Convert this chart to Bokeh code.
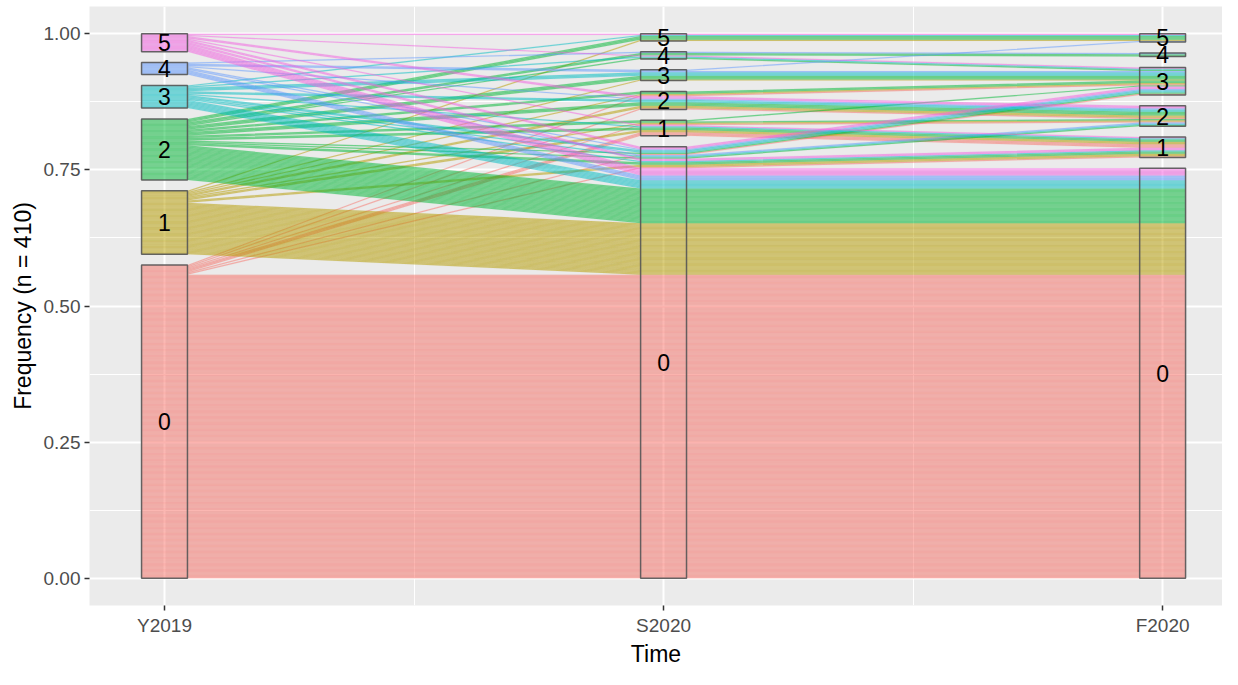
from bokeh.plotting import figure
from bokeh.models import Range1d, FixedTicker, ColumnDataSource, NumeralTickFormatter
from bokeh.core.properties import value
from bokeh.embed import file_html
from bokeh.resources import INLINE

# ---------------- data ----------------
times = ["Y2019", "S2020", "F2020"]
stages = [0, 1, 2, 3, 4, 5]
stage_labels = ["0", "1", "2", "3", "4", "5"]
stage_colors = ["#F8766D", "#B79F00", "#00BA38", "#00BFC4", "#619CFF", "#F564E3"]

# each path = (stage in Y2019, stage in S2020, stage in F2020) with number of people
path_y2019 = [0, 0, 0, 0, 0, 0, 0,
              1, 1, 1, 1, 1, 1, 1, 1,
              2, 2, 2, 2, 2, 2, 2, 2, 2, 2, 2, 2, 2,
              3, 3, 3, 3, 3, 3, 3, 3, 3,
              4, 4, 4, 4, 4, 4, 4,
              5, 5, 5, 5, 5, 5, 5]
path_s2020 = [0, 0, 0, 1, 1, 2, 2,
              0, 0, 1, 1, 2, 2, 3, 5,
              0, 0, 0, 0, 1, 1, 1, 2, 2, 3, 4, 4, 5,
              0, 0, 0, 0, 1, 2, 3, 4, 5,
              0, 0, 0, 2, 3, 3, 4,
              0, 0, 0, 1, 2, 4, 5]
path_f2020 = [0, 1, 3, 1, 2, 2, 3,
              0, 1, 1, 2, 2, 3, 3, 5,
              0, 1, 2, 3, 1, 2, 3, 2, 3, 3, 3, 4, 5,
              0, 1, 2, 3, 1, 2, 3, 3, 5,
              0, 2, 3, 2, 3, 5, 4,
              0, 1, 3, 1, 2, 3, 5]
path_count = [254, 1, 1, 3, 1, 1, 1,
              43, 2, 2, 1, 2, 1, 1, 1,
              29, 2, 1, 1, 2, 1, 1, 3, 2, 3, 1, 2, 3,
              7, 1, 1, 2, 1, 2, 3, 1, 1,
              4, 1, 1, 1, 1, 1, 1,
              6, 2, 2, 1, 2, 1, 1]

# ---------------- layout of the alluvia ----------------
N = sum(path_count)
gap = 0.02
unit = (1.0 - gap * (len(stages) - 1)) / N
w = 0.092

people = []
for a, b, c, n in zip(path_y2019, path_s2020, path_f2020, path_count):
    people += [(a, b, c)] * n

sort_keys = [
    lambda t: (t[0], t[1], t[2]),
    lambda t: (t[1], t[2], t[0]),
    lambda t: (t[2], t[1], t[0]),
]

lo = [[0.0] * N for _ in times]
strata = []  # (axis, stage, bottom, top)
for ax in range(len(times)):
    counts = [sum(1 for t in people if t[ax] == s) for s in stages]
    bottoms = []
    acc = 0.0
    for k, s in enumerate(stages):
        bottoms.append(acc)
        strata.append((ax, s, acc, acc + counts[k] * unit))
        acc += counts[k] * unit + gap
    cursor = list(bottoms)
    for i in sorted(range(N), key=lambda i: sort_keys[ax](people[i])):
        s = people[i][ax]
        lo[ax][i] = cursor[s]
        cursor[s] += unit

xs, ys, cols = [], [], []
for i in range(N):
    xx, top, bot = [], [], []
    for ax in range(len(times)):
        xc = ax + 1
        xx += [xc - w / 2, xc + w / 2]
        top += [lo[ax][i] + unit] * 2
        bot += [lo[ax][i]] * 2
    xs.append(xx + xx[::-1])
    ys.append(top + bot[::-1])
    cols.append(stage_colors[people[i][0]])

flow_src = ColumnDataSource(dict(xs=xs, ys=ys, color=cols))
box_src = ColumnDataSource(dict(
    left=[st[0] + 1 - w / 2 for st in strata],
    right=[st[0] + 1 + w / 2 for st in strata],
    bottom=[st[2] for st in strata],
    top=[st[3] for st in strata],
    x=[st[0] + 1 for st in strata],
    y=[(st[2] + st[3]) / 2 for st in strata],
    label=[stage_labels[st[1]] for st in strata],
))

# ---------------- figure ----------------
p = figure(width=1222, height=669,
           x_range=Range1d(0.8497, 3.12), y_range=Range1d(-0.05, 1.05),
           output_backend="svg", toolbar_location=None,
           min_border_left=89, min_border_right=0, min_border_top=6, min_border_bottom=58,
           background_fill_color="#EBEBEB", border_fill_color="white",
           outline_line_color=None)

p.patches("xs", "ys", source=flow_src, fill_color="color", fill_alpha=0.5,
          line_color="color", line_alpha=0.08, line_width=0.8)
p.quad(left="left", right="right", bottom="bottom", top="top", source=box_src,
       fill_color=None, line_color="#555555", line_alpha=0.9, line_width=1.5)
p.text(x="x", y="y", text="label", source=box_src, text_align="center",
       text_baseline="middle", text_font=value("Liberation Sans"),
       text_font_size="23px", text_color="black")

xt = FixedTicker(ticks=[1, 2, 3], minor_ticks=[1.5, 2.5])
yt = FixedTicker(ticks=[0, 0.25, 0.5, 0.75, 1.0], minor_ticks=[0.125, 0.375, 0.625, 0.875])
p.xaxis.ticker = xt
p.yaxis.ticker = yt
p.xgrid.ticker = xt
p.ygrid.ticker = yt
for g in (p.xgrid, p.ygrid):
    g.grid_line_color = "white"
    g.grid_line_width = 2
    g.minor_grid_line_color = "white"
    g.minor_grid_line_width = 1
p.xaxis.major_label_overrides = {1: times[0], 2: times[1], 3: times[2]}
p.yaxis.formatter = NumeralTickFormatter(format="0.00")

for axis in (p.xaxis, p.yaxis):
    axis.axis_line_color = None
    axis.major_tick_line_color = "#333333"
    axis.major_tick_line_width = 1.5
    axis.major_tick_out = 5
    axis.major_tick_in = 0
    axis.minor_tick_line_color = None
    axis.major_label_text_font = "Liberation Sans"
    axis.major_label_text_font_size = "19px"
    axis.major_label_text_color = "#4D4D4D"
    axis.axis_label_text_font = "Liberation Sans"
    axis.axis_label_text_font_size = "23px"
    axis.axis_label_text_font_style = "normal"
    axis.axis_label_text_color = "black"
p.xaxis.axis_label = "Time"
p.yaxis.axis_label = "Frequency (n = 410)"
p.xaxis.major_label_standoff = 4
p.xaxis.axis_label_standoff = 2
p.yaxis.major_label_standoff = 4
p.yaxis.axis_label_standoff = 5

open("out.html", "w").write(file_html(p, INLINE))
